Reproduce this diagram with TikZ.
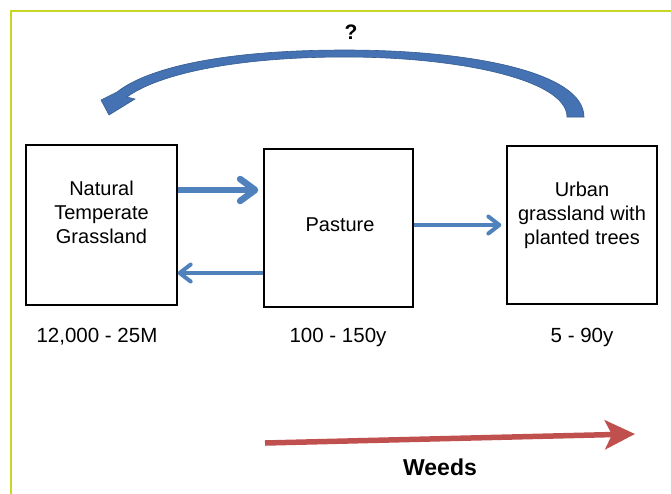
\documentclass[tikz,border=0pt]{standalone}
\usepackage{fontspec}
\setmainfont{Liberation Sans}
\usetikzlibrary{arrows.meta}
\definecolor{frameyel}{RGB}{200,214,40}
\definecolor{arrblue}{RGB}{79,129,189}
\definecolor{curveblue}{RGB}{68,114,178}
\definecolor{curveedge}{RGB}{52,92,145}
\definecolor{weedred}{RGB}{192,80,77}
\begin{document}
\begin{tikzpicture}[x=1pt,y=-1pt,
  boxnode/.style={draw=black, line width=1.3pt, inner sep=0pt},
  boxtext/.style={align=center, font=\fontsize{20}{24}\selectfont, inner sep=0pt},
  agelabel/.style={font=\fontsize{20.5}{24}\selectfont, inner sep=0pt, anchor=base},
  bluearrow/.style={draw=arrblue, line cap=butt},
]
\useasboundingbox (0,0) rectangle (671,493);
\draw[frameyel, line width=1.6pt] (11,495) -- (11,11) -- (673,11);

% boxes
\node[boxnode, minimum width=151pt, minimum height=160pt] (b1) at (101.5,225) {};
\node[boxnode, minimum width=149pt, minimum height=158pt] (b2) at (338.5,228) {};
\node[boxnode, minimum width=150pt, minimum height=158pt] (b3) at (582,225) {};

\node[boxtext] (t1) at (101.5,212.5) {Natural\\Temperate\\Grassland};
\node[boxtext] (t2) at (340,225) {Pasture};
\node[boxtext] (t3) at (582,215) {Urban\\grassland with\\planted trees};

% age labels
\node[agelabel] (l1) at (97,342.5) {12,000 - 25M};
\node[agelabel] (l2) at (338,342.5) {100 - 150y};
\node[agelabel] (l3) at (582,342.5) {5 - 90y};

% straight arrows
\draw[bluearrow, line width=6.5pt, shorten >=5pt,
  -{Straight Barb[length=15pt,width=22pt,round]}]
  (b1.east |- 0,190) -- (b2.west |- 0,190);
\draw[bluearrow, line width=4pt,
  -{Straight Barb[length=11pt,width=17pt,round]}]
  (b2.west |- 0,273) -- (b1.east |- 0,273);
\draw[bluearrow, line width=4pt, shorten >=5pt,
  -{Straight Barb[length=11pt,width=17pt,round]}]
  (b2.east |- 0,225) -- (b3.west |- 0,225);

% curved arrow
\fill[curveblue, draw=curveedge, line width=0.6pt]
  (584,117) .. controls (584,72) and (470,50) .. (345,50)
  .. controls (230,50) and (150,66) .. (117,92)
  -- (101,100) -- (109,115) -- (135,99) -- (127,97)
  .. controls (160,73) and (240,57) .. (345,57)
  .. controls (460,57) and (567,80) .. (567,117) -- cycle;
\node[font=\bfseries\fontsize{21}{24}\selectfont, inner sep=0pt, anchor=base] (q) at (351,39.5) {?};

% weeds arrow
\coordinate (wtail) at (265,443);
\coordinate (wtip) at (635,434);
\draw[weedred, line width=5.5pt, -{Stealth[length=30pt,width=29pt,inset=7pt]}] (wtail) -- (wtip);
\node[font=\bfseries\fontsize{23}{26}\selectfont, inner sep=0pt, anchor=base] (w) at (440,475) {Weeds};
\end{tikzpicture}
\end{document}
